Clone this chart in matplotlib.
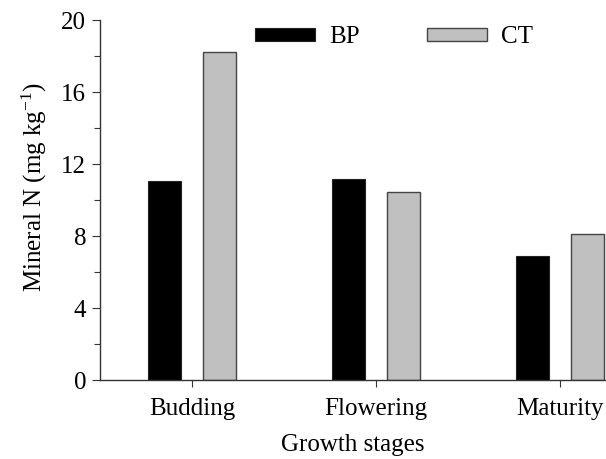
import numpy as np
import matplotlib.pyplot as plt
from matplotlib.ticker import MultipleLocator

plt.rcParams['font.family'] = ['Liberation Serif', 'DejaVu Serif']
plt.rcParams['font.size'] = 18
plt.rcParams['mathtext.default'] = 'regular'

stages = ['Budding', 'Flowering', 'Maturity']
bp_values = [11.05, 11.18, 6.88]
ct_values = [18.2, 10.43, 8.1]

fig = plt.figure(figsize=(6.06, 4.59), dpi=100)
ax = fig.add_axes([0.165, 0.1721, 0.835, 0.7843])

x = np.arange(len(stages))
w = 0.182
ax.bar(x - 0.15, bp_values, w, color='black', edgecolor='#222222', linewidth=0.8, label='BP')
ax.bar(x + 0.15, ct_values, w, color='#c0c0c0', edgecolor='#444444', linewidth=1.0, label='CT')

ax.set_xlim(-0.5, 2.25)
ax.set_ylim(0, 20)
ax.set_xticks(x)
ax.set_xticklabels(stages)
ax.yaxis.set_major_locator(MultipleLocator(4))
ax.yaxis.set_minor_locator(MultipleLocator(2))

for side in ['top', 'right']:
    ax.spines[side].set_visible(False)
for side in ['left', 'bottom']:
    ax.spines[side].set_color('#333333')
    ax.spines[side].set_linewidth(1.0)

ax.tick_params(axis='y', which='major', direction='out', length=6, width=0.8, color='#333333', pad=4)
ax.tick_params(axis='y', which='minor', direction='out', length=4, width=0.8, color='#333333')
ax.tick_params(axis='x', which='major', direction='out', length=5, width=0.8, color='#333333', pad=8)

ax.set_xlabel('Growth stages', labelpad=10)
ax.set_ylabel('Mineral N (mg kg$^{-1}$)')
ax.yaxis.set_label_coords(-0.10, 0.536)

ax.legend(ncol=2, frameon=False, loc='upper left', bbox_to_anchor=(0.262, 1.045),
          handlelength=2.4, handleheight=0.45, handletextpad=0.55, columnspacing=2.7)

fig.savefig('out.png', dpi=100)
